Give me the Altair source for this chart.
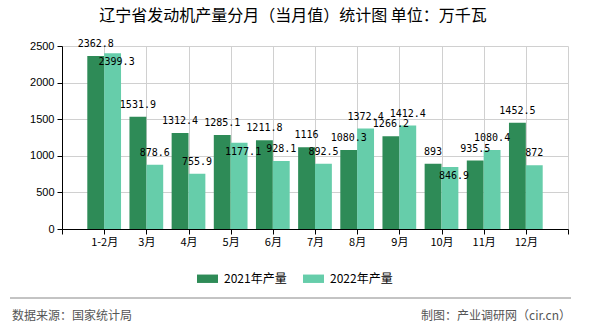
import json
import altair as alt
import pandas as pd

months = ["1-2月", "3月", "4月", "5月", "6月", "7月", "8月", "9月", "10月", "11月", "12月"]
v2021 = [2362.8, 1531.9, 1312.4, 1285.1, 1211.8, 1116, 1080.3, 1266.2, 893, 935.5, 1452.5]
v2022 = [2399.3, 878.6, 755.9, 1177.1, 928.1, 892.5, 1372.4, 1412.4, 846.9, 1080.4, 872]
series = ["2021年产量", "2022年产量"]
colors = ["#2E8B57", "#66CDAA"]
y_ticks = [0, 500, 1000, 1500, 2000, 2500]

title_text = "辽宁省发动机产量分月（当月值）统计图 单位：万千瓦"
source_text = "数据来源：国家统计局"
credit_text = "制图：产业调研网（cir.cn）"

rows = []
for i, m in enumerate(months):
    for s, vals in zip(series, [v2021, v2022]):
        rows.append({"month": m, "idx": i + 1, "series": s, "value": vals[i],
                     "label": f"{vals[i]:g}"})
df = pd.DataFrame(rows)

tick_labels = [""] + months + [""]
label_expr = json.dumps(tick_labels, ensure_ascii=False) + "[datum.value]"

CJK = "Noto Sans CJK SC"

base = alt.Chart(df).transform_calculate(
    x0=f"datum.idx + (datum.series == '{series[0]}' ? -0.4 : 0)"
).transform_calculate(
    x1="datum.x0 + 0.4", xc="datum.x0 + 0.2"
).transform_joinaggregate(
    vmin="min(value)", vmax="max(value)", groupby=["month"]
).transform_calculate(
    close=f"datum.series == '{series[1]}' && (datum.vmax - datum.vmin) < 120"
)

xscale = alt.Scale(domain=[0, len(months) + 1], nice=False, zero=False)
yscale = alt.Scale(domain=[0, 2500], nice=False)

xaxis = alt.Axis(
    values=list(range(len(months) + 2)), labelExpr=label_expr, title=None,
    grid=True, gridColor="#d0d0d0", domainColor="#000", tickColor="#000",
    tickSize=5, labelFont=CJK, labelFontSize=11, labelColor="#000",
    labelPadding=2)
yaxis = alt.Axis(
    values=y_ticks, format="d", title=None, grid=True, gridColor="#d0d0d0",
    domainColor="#000", tickColor="#000", tickSize=5,
    labelFont="Liberation Sans", labelFontSize=11, labelColor="#000",
    labelPadding=3, labelOverlap=False)

bars = base.mark_bar().encode(
    x=alt.X("x0:Q", scale=xscale, axis=xaxis),
    x2="x1:Q",
    y=alt.Y("value:Q", scale=yscale, axis=yaxis),
    y2=alt.datum(0),
    color=alt.Color("series:N", scale=alt.Scale(domain=series, range=colors),
                    legend=alt.Legend(
                        title=None, orient="none", direction="horizontal",
                        legendX=135, legendY=222,
                        symbolType="M-1,-0.4H1V0.4H-1Z", symbolSize=441,
                        symbolStrokeWidth=0, symbolOpacity=1,
                        labelFont=CJK, labelFontSize=12, labelColor="#000",
                        labelOffset=6, columnPadding=16)),
)

labels_above = base.transform_filter("!datum.close").mark_text(
    font="DejaVu Sans Mono", fontSize=10, color="#000",
    baseline="middle", dy=-12).encode(
    x=alt.X("xc:Q", scale=xscale, axis=xaxis),
    y=alt.Y("value:Q", scale=yscale, axis=yaxis),
    text="label:N",
)
labels_below = base.transform_filter("datum.close").mark_text(
    font="DejaVu Sans Mono", fontSize=10, color="#000",
    baseline="middle", dy=9, dx=4).encode(
    x=alt.X("xc:Q", scale=xscale, axis=xaxis),
    y=alt.Y("value:Q", scale=yscale, axis=yaxis),
    text="label:N",
)

one = alt.Data(values=[{"a": 1}])
footer_line = alt.Chart(one).mark_rule(color="#888888", strokeWidth=1).encode(
    x=alt.value(-52), x2=alt.value(509), y=alt.value(252))
footer_left = alt.Chart(one).mark_text(
    text=source_text, font=CJK, fontSize=12, color="#555555", align="left",
    baseline="middle").encode(x=alt.value(-50), y=alt.value(270))
footer_right = alt.Chart(one).mark_text(
    text=credit_text, font=CJK, fontSize=12, color="#555555", align="right",
    baseline="middle").encode(x=alt.value(509), y=alt.value(270))

chart = alt.layer(bars, labels_above, labels_below, footer_line, footer_left,
                  footer_right).properties(
    width=506, height=183,
    autosize=alt.AutoSizeParams(type="none"),
    padding={"left": 62, "top": 46, "right": 22, "bottom": 101},
    title=alt.TitleParams(title_text, font=CJK, fontSize=16, fontWeight="normal",
                          color="#000", anchor="middle", dx=-22, offset=15),
    background="white",
).configure_view(stroke="transparent")

chart.save("out.html", embed_options={"renderer": "svg", "actions": False})
